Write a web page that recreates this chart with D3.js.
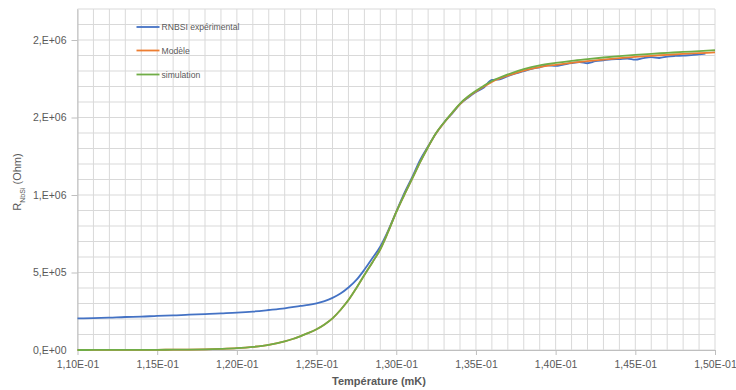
<!DOCTYPE html>
<html><head><meta charset="utf-8">
<script src="https://cdn.jsdelivr.net/npm/d3@7/dist/d3.min.js"></script>
<style>body{margin:0;background:#fff}svg{display:block;font-family:"Liberation Sans",Arial,sans-serif}</style>
</head><body><svg id="c" width="736" height="390"></svg>
<script>
// ---- data ----
const seriesNames = ["RNBSI expérimental", "Modèle", "simulation"];
const seriesColors = ["#4472C4", "#ED7D31", "#70AD47"];

const xTickValues = [0.110, 0.115, 0.120, 0.125, 0.130, 0.135, 0.140, 0.145, 0.150];
const xTickLabels = ["1,10E-01","1,15E-01","1,20E-01","1,25E-01","1,30E-01","1,35E-01","1,40E-01","1,45E-01","1,50E-01"];
const yTickValues = [0, 500000, 1000000, 1500000, 2000000];
const yTickLabels = ["0,E+00","5,E+05","1,E+06","2,E+06","2,E+06"];

const tExp = [0.110,0.111,0.112,0.113,0.114,0.115,0.116,0.117,0.118,0.119,0.120,0.121,0.122,0.123,0.124,0.1245,0.125,0.1255,0.126,0.1265,0.127,0.1275,0.128,0.1285,0.129,0.1295,0.130,0.1305,0.131,0.1315,0.132,0.1325,0.133,0.1335,0.134,0.1345,0.135,0.1355,0.136,0.1365,0.137,0.1375,0.138,0.1385,0.139,0.1395,0.140,0.1405,0.141,0.1415,0.142,0.1425,0.143,0.1435,0.144,0.1445,0.145,0.1455,0.146,0.1465,0.147,0.1475,0.148,0.1485,0.149,0.1494];
const rExp = [204000,206000,209000,213000,215000,220000,223000,228000,231000,236000,241000,248000,258000,269000,284000,291000,301000,315000,336000,364000,403000,452000,518000,592000,668000,772000,892000,1010000,1115000,1226000,1314000,1398000,1468000,1524000,1586000,1628000,1664000,1694000,1742000,1746000,1767000,1784000,1799000,1814000,1824000,1837000,1833000,1842000,1851000,1857000,1850000,1863000,1869000,1875000,1877000,1880000,1873000,1883000,1889000,1884000,1893000,1897000,1899000,1903000,1907000,1912000];

const tModel = [0.110,0.111,0.112,0.113,0.114,0.115,0.116,0.117,0.118,0.119,0.120,0.121,0.122,0.123,0.1235,0.124,0.1245,0.125,0.1255,0.126,0.1265,0.127,0.1275,0.128,0.1285,0.129,0.1295,0.130,0.1305,0.131,0.1315,0.132,0.1325,0.133,0.1335,0.134,0.1345,0.135,0.1355,0.136,0.1365,0.137,0.138,0.139,0.140,0.141,0.142,0.143,0.144,0.145,0.146,0.147,0.148,0.149,0.150];
const rModel = [0,200,400,600,900,1300,2000,3000,4500,7500,12000,20000,33000,55000,71000,90000,110000,134000,165000,204000,258000,322000,400000,484000,565000,650000,765000,890000,1000000,1105000,1212000,1310000,1398000,1466000,1528000,1587000,1632000,1668000,1700000,1730000,1752000,1770000,1803000,1825000,1840000,1853000,1864000,1874000,1883000,1891000,1898000,1904000,1910000,1915000,1920000];
const rSim = [0,200,400,600,900,1300,2000,3000,4500,7500,12000,20000,33000,55000,71000,90000,110000,134000,165000,204000,258000,322000,400000,484000,565000,650000,765000,890000,1000000,1105000,1212000,1310000,1400000,1468000,1530000,1590000,1635000,1672000,1705000,1735000,1758000,1778000,1812000,1836000,1852000,1866000,1877000,1887000,1896000,1904000,1911000,1917000,1923000,1928000,1934000];

// ---- chart ----
const svg = d3.select("#c");
const m = {l:77.5, r:715, t:9, b:350};
const x = d3.scaleLinear().domain([0.110, 0.150]).range([m.l, m.r]);
const y = d3.scaleLinear().domain([0, 2200000]).range([m.b, m.t]);

const grid = svg.append("g");
grid.selectAll("line.v").data(d3.range(0, 41).map(i => 0.110 + i*0.001)).join("line")
  .attr("x1", d => x(d)).attr("x2", d => x(d)).attr("y1", m.t).attr("y2", m.b)
  .attr("stroke", "#d9d9d9").attr("stroke-width", 1);
grid.selectAll("line.h").data(d3.range(0, 23).map(i => i*100000)).join("line")
  .attr("y1", d => y(d)).attr("y2", d => y(d)).attr("x1", m.l).attr("x2", m.r)
  .attr("stroke", "#d9d9d9").attr("stroke-width", 1);

const xAxis = d3.axisBottom(x).tickValues(xTickValues).tickFormat((d,i) => xTickLabels[i]).tickSize(5).tickSizeOuter(0).tickPadding(4);
const gx = svg.append("g").attr("transform", `translate(0,${m.b})`).call(xAxis);
const yAxis = d3.axisLeft(y).tickValues(yTickValues).tickFormat((d,i) => yTickLabels[i]).tickSize(6).tickSizeOuter(0).tickPadding(5);
const gy = svg.append("g").attr("transform", `translate(${m.l},0)`).call(yAxis);
[gx, gy].forEach(g => {
  g.selectAll("path.domain").attr("stroke", "#bfbfbf");
  g.selectAll(".tick line").attr("stroke", "#bfbfbf");
  g.selectAll(".tick text").attr("fill", "#595959").style("font-size", "10.5px").style("font-family", '"Liberation Sans",Arial,sans-serif');
});
gx.selectAll(".tick text").attr("dy", "0.85em");
gy.select(".tick line").attr("stroke", "none");

const lineSmooth = d3.line().x(d => x(d[0])).y(d => y(d[1])).curve(d3.curveMonotoneX);
const data = [
  tExp.map((t,i) => [t, rExp[i]]),
  tModel.map((t,i) => [t, rModel[i]]),
  tModel.map((t,i) => [t, rSim[i]])
];
data.forEach((pts, i) => {
  svg.append("path").attr("d", lineSmooth(pts)).attr("fill", "none")
    .attr("stroke", seriesColors[i]).attr("stroke-width", 1.8).attr("stroke-linejoin", "round");
});

// legend
const leg = svg.append("g");
const legY = [27, 50.5, 74.5];
seriesNames.forEach((n, i) => {
  leg.append("line").attr("x1", 136.5).attr("x2", 159.5).attr("y1", legY[i]).attr("y2", legY[i])
    .attr("stroke", seriesColors[i]).attr("stroke-width", 1.8);
  leg.append("text").attr("x", 161.5).attr("y", legY[i]).attr("dy", "0.35em")
    .attr("fill", "#595959").style("font-size", "8.6px").text(n);
});

// axis titles
svg.append("text").attr("x", 379).attr("y", 385).attr("text-anchor", "middle")
  .attr("fill", "#595959").style("font-size", "11px").style("font-weight", "bold").text("Température (mK)");
const yt = svg.append("text").attr("transform", "translate(21,182) rotate(-90)").attr("text-anchor", "middle")
  .attr("fill", "#595959").style("font-size", "11px");
yt.append("tspan").text("R");
yt.append("tspan").attr("baseline-shift", "sub").style("font-size", "7px").text("NbSi");
yt.append("tspan").text(" (Ohm)");
</script></body></html>
